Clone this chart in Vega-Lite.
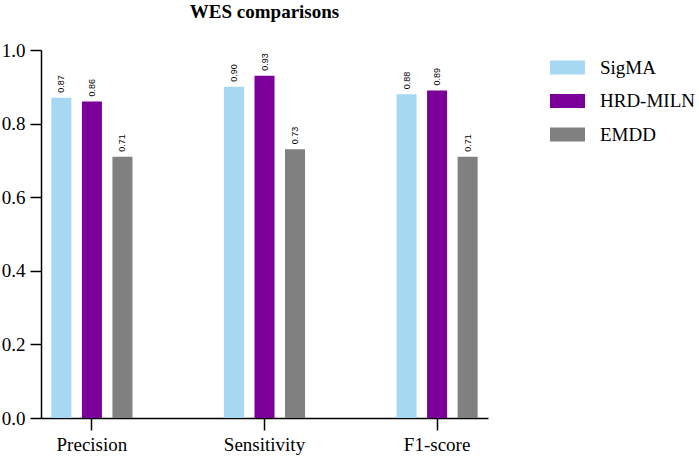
{
  "$schema": "https://vega.github.io/schema/vega-lite/v6.json",
  "autosize": {"type": "none"},
  "padding": {"left": 41, "top": 50, "right": 211, "bottom": 40},
  "width": 447,
  "height": 368,
  "background": "white",
  "title": {
    "text": "WES comparisons",
    "font": "Liberation Serif",
    "fontSize": 19,
    "fontWeight": "bold",
    "color": "black",
    "anchor": "middle",
    "frame": "group",
    "baseline": "alphabetic",
    "offset": 4
  },
  "data": {
    "values": [
      {"metric": "Precision", "method": "SigMA", "value": 0.87},
      {"metric": "Precision", "method": "HRD-MILN", "value": 0.86},
      {"metric": "Precision", "method": "EMDD", "value": 0.71},
      {"metric": "Sensitivity", "method": "SigMA", "value": 0.90},
      {"metric": "Sensitivity", "method": "HRD-MILN", "value": 0.93},
      {"metric": "Sensitivity", "method": "EMDD", "value": 0.73},
      {"metric": "F1-score", "method": "SigMA", "value": 0.88},
      {"metric": "F1-score", "method": "HRD-MILN", "value": 0.89},
      {"metric": "F1-score", "method": "EMDD", "value": 0.71}
    ]
  },
  "encoding": {
    "x": {
      "field": "metric",
      "type": "nominal",
      "sort": ["Precision", "Sensitivity", "F1-score"],
      "scale": {"paddingInner": 0.53, "paddingOuter": 0.06},
      "axis": {
        "title": null,
        "labelAngle": 0,
        "labelFont": "Liberation Serif",
        "labelFontSize": 19,
        "labelColor": "black",
        "labelPadding": 5,
        "tickSize": 12,
        "tickColor": "black",
        "tickWidth": 1.5,
        "domainColor": "black",
        "domainWidth": 1.5
      }
    },
    "xOffset": {
      "field": "method",
      "type": "nominal",
      "sort": ["SigMA", "HRD-MILN", "EMDD"],
      "scale": {"paddingInner": 0.344, "paddingOuter": 0}
    },
    "y": {
      "field": "value",
      "type": "quantitative",
      "scale": {"domain": [0, 1], "nice": false},
      "axis": {
        "title": null,
        "values": [0, 0.2, 0.4, 0.6, 0.8, 1.0],
        "format": ".1f",
        "grid": false,
        "labelFont": "Liberation Serif",
        "labelFontSize": 19,
        "labelColor": "black",
        "labelPadding": 5,
        "tickSize": 11,
        "tickColor": "black",
        "tickWidth": 1.5,
        "domainColor": "black",
        "domainWidth": 1.5
      }
    }
  },
  "layer": [
    {
      "mark": {"type": "bar"},
      "encoding": {
        "color": {
          "field": "method",
          "type": "nominal",
          "sort": ["SigMA", "HRD-MILN", "EMDD"],
          "scale": {
            "domain": ["SigMA", "HRD-MILN", "EMDD"],
            "range": ["#a6d8f2", "#7a0099", "#808080"]
          },
          "legend": {
            "title": null,
            "orient": "none",
            "legendX": 509,
            "legendY": 0,
            "symbolType": "M-1,-0.4H1V0.4H-1Z",
            "symbolSize": 1225,
            "symbolStrokeWidth": 0,
            "symbolOpacity": 1,
            "labelFont": "Liberation Serif",
            "labelFontSize": 19,
            "labelColor": "black",
            "labelOffset": 15,
            "rowPadding": 5.5
          }
        }
      }
    },
    {
      "mark": {
        "type": "text",
        "angle": 270,
        "align": "left",
        "baseline": "middle",
        "dx": 5,
        "font": "Liberation Sans",
        "fontSize": 9,
        "color": "black"
      },
      "encoding": {
        "text": {"field": "value", "type": "quantitative", "format": ".2f"}
      }
    }
  ],
  "config": {
    "view": {"stroke": null}
  }
}
